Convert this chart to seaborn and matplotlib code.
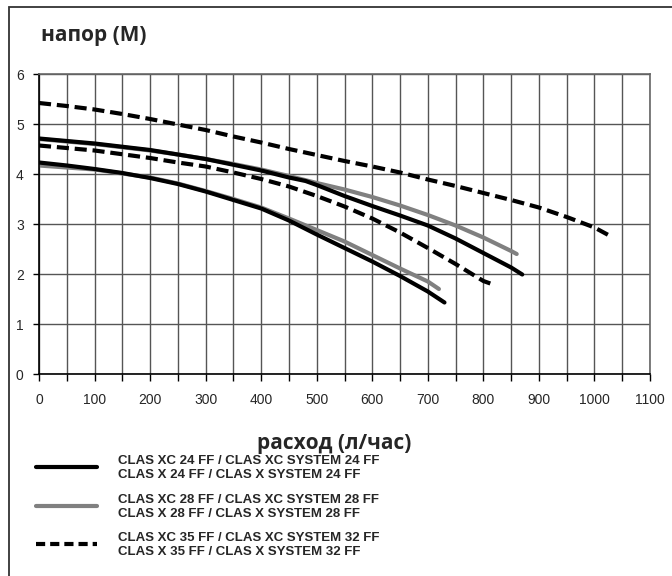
import matplotlib
matplotlib.use('Agg')
import matplotlib.pyplot as plt
import seaborn as sns
import pandas as pd
from matplotlib import font_manager
from matplotlib.lines import Line2D
from matplotlib.patches import Rectangle

# flow (l/h) and head (m)
x_24_low = [0, 50, 100, 150, 200, 250, 300, 350, 400, 450, 500, 550, 600, 650, 700, 730]
y_24_low = [4.23, 4.17, 4.10, 4.02, 3.92, 3.80, 3.65, 3.48, 3.31, 3.07, 2.79, 2.52, 2.25, 1.96, 1.65, 1.43]
x_24_high = [0, 100, 200, 300, 400, 450, 480, 500, 550, 600, 650, 700, 750, 800, 850, 870]
y_24_high = [4.71, 4.61, 4.48, 4.30, 4.07, 3.93, 3.86, 3.78, 3.56, 3.36, 3.17, 2.97, 2.71, 2.42, 2.13, 1.99]

x_28_low = [0, 100, 200, 250, 300, 350, 400, 450, 500, 550, 600, 650, 700, 720]
y_28_low = [4.17, 4.09, 3.93, 3.81, 3.66, 3.50, 3.33, 3.11, 2.88, 2.65, 2.38, 2.11, 1.85, 1.70]
x_28_high = [0, 100, 200, 250, 300, 350, 400, 450, 500, 550, 600, 650, 700, 750, 800, 850, 860]
y_28_high = [4.70, 4.60, 4.47, 4.39, 4.30, 4.20, 4.09, 3.96, 3.82, 3.69, 3.54, 3.37, 3.18, 2.97, 2.73, 2.46, 2.40]

x_35_low = [0, 100, 200, 250, 300, 350, 400, 450, 500, 550, 600, 650, 700, 750, 800, 820]
y_35_low = [4.57, 4.47, 4.32, 4.23, 4.15, 4.03, 3.90, 3.75, 3.56, 3.35, 3.11, 2.83, 2.52, 2.20, 1.86, 1.78]
x_35_high = [0, 50, 100, 150, 200, 250, 300, 350, 400, 450, 500, 550, 600, 650, 700, 750, 800, 850, 900, 950, 1000, 1030]
y_35_high = [5.42, 5.36, 5.29, 5.20, 5.10, 4.99, 4.88, 4.75, 4.63, 4.50, 4.38, 4.26, 4.15, 4.03, 3.89, 3.76, 3.62, 3.48, 3.33, 3.14, 2.93, 2.75]

legend_labels = [
    'CLAS XC 24 FF / CLAS XC SYSTEM 24 FF\nCLAS X 24 FF / CLAS X SYSTEM 24 FF',
    'CLAS XC 28 FF / CLAS XC SYSTEM 28 FF\nCLAS X 28 FF / CLAS X SYSTEM 28 FF',
    'CLAS XC 35 FF / CLAS XC SYSTEM 32 FF\nCLAS X 35 FF / CLAS X SYSTEM 32 FF',
]

GRAY = '#808080'
DASH = (0, (2.9, 1.4))
LW = 3.0


def main():
    sns.set_style('white')
    plt.rcParams['font.family'] = ['Liberation Sans', 'DejaVu Sans']

    names = {f.name for f in font_manager.fontManager.ttflist}
    legend_font = 'Liberation Sans Narrow' if 'Liberation Sans Narrow' in names else 'Liberation Sans'

    fig = plt.figure(figsize=(6.72, 5.76), dpi=100)
    ax = fig.add_axes([39 / 672, 1 - 374 / 576, 611 / 672, 300 / 576])

    series = [
        (x_28_low, y_28_low, GRAY, '-'),
        (x_28_high, y_28_high, GRAY, '-'),
        (x_24_low, y_24_low, 'black', '-'),
        (x_24_high, y_24_high, 'black', '-'),
        (x_35_low, y_35_low, 'black', DASH),
        (x_35_high, y_35_high, 'black', DASH),
    ]
    for xs, ys, color, ls in series:
        df = pd.DataFrame({'flow': xs, 'head': ys})
        sns.lineplot(data=df, x='flow', y='head', color=color, linewidth=LW,
                     linestyle=ls, ax=ax, solid_capstyle='round', solid_joinstyle='round')

    ax.set_xlim(0, 1100)
    ax.set_ylim(0, 6)
    ax.set_xticks(range(0, 1101, 100))
    ax.set_xticks(range(50, 1100, 100), minor=True)
    ax.set_yticks(range(0, 7))
    ax.grid(True, which='both', color='#555555', linewidth=1.0)
    ax.set_axisbelow(True)
    ax.tick_params(axis='x', which='both', direction='out', length=5, width=1,
                   color='black', bottom=True, labelsize=10, pad=9)
    ax.tick_params(axis='y', direction='out', length=4, width=1, color='black',
                   left=True, labelsize=10, pad=7)
    ax.set_xlabel('')
    ax.set_ylabel('')
    for side in ['left', 'bottom']:
        ax.spines[side].set_color('black')
        ax.spines[side].set_linewidth(1.2)
    for side in ['top', 'right']:
        ax.spines[side].set_color('#666666')
        ax.spines[side].set_linewidth(1.2)

    # outer frame
    fig.patches.append(Rectangle((9 / 672, -0.1), 1.2, 1.1 - 7 / 576, transform=fig.transFigure,
                                 fill=False, edgecolor='#333333', linewidth=1.3))

    fig.text(41 / 672, 1 - 35 / 576, 'напор (M)', fontsize=15, fontweight='bold',
             family=['Open Sans', 'DejaVu Sans'], va='center', ha='left')
    fig.text(334 / 672, 1 - 444 / 576, 'расход (л/час)', fontsize=15, fontweight='bold',
             family=['Open Sans', 'DejaVu Sans'], va='center', ha='center')

    # legend
    legend_y = [467, 506, 544]
    legend_style = [('black', '-'), (GRAY, '-'), ('black', (0, (2.2, 1.2)))]
    for yy, (color, ls), label in zip(legend_y, legend_style, legend_labels):
        fy = 1 - yy / 576
        fig.add_artist(Line2D([36 / 672, 97 / 672], [fy, fy], transform=fig.transFigure,
                              color=color, linewidth=LW, linestyle=ls, solid_capstyle='round'))
        fig.text(118 / 672, fy - 1 / 576, label, fontsize=9.5, fontweight='bold',
                 family=[legend_font, 'DejaVu Sans'],
                 va='center', ha='left', linespacing=1.3)

    fig.savefig('out.png', dpi=100)


if __name__ == '__main__':
    main()
